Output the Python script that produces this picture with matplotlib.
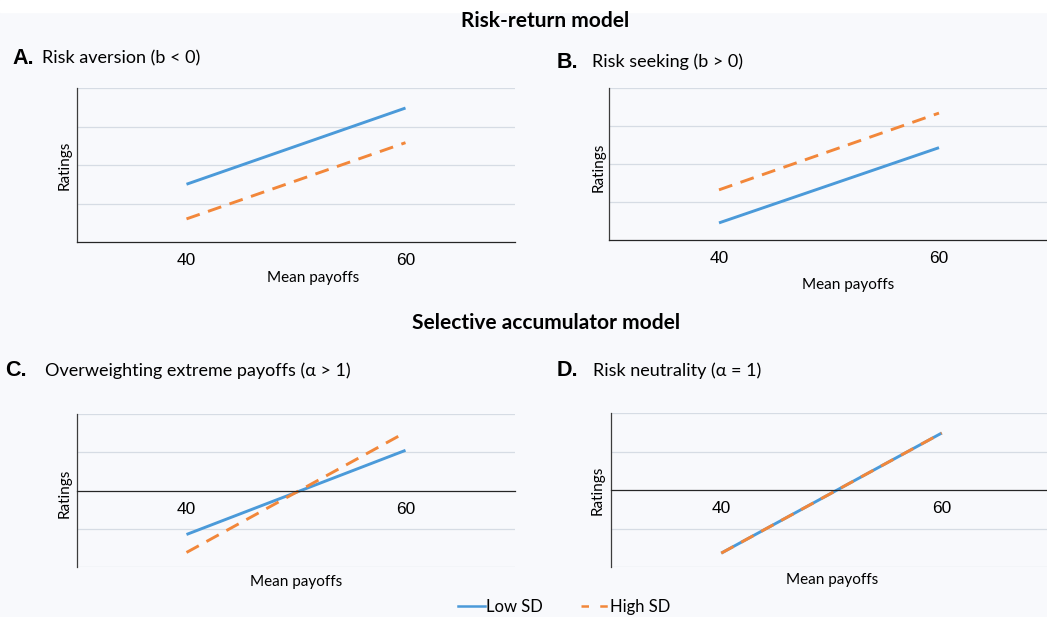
"""Predicted ratings under the risk-return and selective accumulator models."""

import matplotlib.pyplot as plt
from matplotlib.lines import Line2D
from matplotlib.patches import Rectangle

W, H = 1047, 617

mean_payoffs = [40, 60]

# predicted ratings (arbitrary units) at the two mean payoffs
aversion_low = [1.5, 3.48]
aversion_high = [0.6, 2.58]
seeking_low = [0.45, 2.43]
seeking_high = [1.32, 3.34]
overweight_low = [-1.15, 1.05]
overweight_high = [-1.62, 1.52]
neutral_low = [-1.64, 1.48]
neutral_high = [-1.64, 1.48]

BLUE = "#4b9ad9"
ORANGE = "#f2873a"
BG = "#f8f9fc"
GRID = "#d6dce4"
SANS = ["Lato", "DejaVu Sans"]
ARIAL = ["Liberation Sans", "DejaVu Sans"]


def fx(px):
    return px / W


def fy(py):
    return 1 - py / H


def panel(fig, left, top, right, bottom, low, high, centred):
    ax = fig.add_axes([fx(left), fy(bottom), (right - left) / W, (bottom - top) / H])
    ax.set_facecolor(BG)
    ax.set_xlim(30, 70)
    if centred:
        ax.set_ylim(-2, 2)
        ax.set_yticks([-2, -1, 1, 2])
        ax.spines["bottom"].set_position(("data", 0))
    else:
        ax.set_ylim(0, 4)
        ax.set_yticks([1, 2, 3, 4])
    ax.yaxis.grid(True, color=GRID, linewidth=0.9)
    ax.set_axisbelow(True)
    ax.tick_params(axis="y", length=0, labelleft=False)
    ax.set_xticks(mean_payoffs)
    ax.set_xticklabels([str(v) for v in mean_payoffs], fontsize=12.5, family=ARIAL)
    ax.tick_params(axis="x", length=0, pad=8)
    for side in ("top", "right"):
        ax.spines[side].set_visible(False)
    ax.spines["left"].set_color("#3c3c3c")
    ax.spines["left"].set_linewidth(0.9)
    ax.spines["bottom"].set_color("#262626")
    ax.spines["bottom"].set_linewidth(0.9)

    ax.plot(mean_payoffs, low, color=BLUE, linewidth=2.1, solid_capstyle="butt")
    ax.plot(mean_payoffs, high, color=ORANGE, linewidth=2.1, dashes=(4.8, 3.0))
    return ax


def axis_labels(fig, ax, xlabel_xy, ylabel_x, ylabel_y):
    fig.text(fx(xlabel_xy[0]), fy(xlabel_xy[1]), "Mean payoffs", fontsize=11,
             family=SANS, ha="center", va="center")
    fig.text(fx(ylabel_x), fy(ylabel_y), "Ratings", fontsize=11, family=SANS,
             rotation=90, ha="center", va="center")


def heading(fig, letter, text, x_letter, x_text, y):
    fig.text(fx(x_letter), fy(y), letter, fontsize=15.5, fontweight="bold",
             family=ARIAL, ha="left", va="center")
    fig.text(fx(x_text), fy(y), text, fontsize=13, family=SANS,
             ha="left", va="center")


fig = plt.figure(figsize=(W / 100, H / 100), dpi=100, facecolor=BG)
fig.patches.append(Rectangle((0, fy(12)), 1, 12 / H, transform=fig.transFigure,
                             color="white", zorder=0))

fig.text(fx(545), fy(21), "Risk-return model", fontsize=15, fontweight="bold",
         family=SANS, ha="center", va="center")
fig.text(fx(546), fy(323), "Selective accumulator model", fontsize=15,
         fontweight="bold", family=SANS, ha="center", va="center")

ax_a = panel(fig, 77, 88, 515, 242, aversion_low, aversion_high, False)
ax_b = panel(fig, 609, 88, 1049, 240, seeking_low, seeking_high, False)
ax_c = panel(fig, 77, 414, 515, 567, overweight_low, overweight_high, True)
ax_d = panel(fig, 611, 413, 1052, 567, neutral_low, neutral_high, True)

axis_labels(fig, ax_a, (313, 278), 65, 165)
axis_labels(fig, ax_b, (848, 285), 599, 167)
axis_labels(fig, ax_c, (296, 582), 65, 493)
axis_labels(fig, ax_d, (832, 580), 598, 490)

heading(fig, "A.", "Risk aversion (b < 0)", 12, 42, 58)
heading(fig, "B.", "Risk seeking (b > 0)", 557, 592, 62)
heading(fig, "C.", "Overweighting extreme payoffs (\u03b1 > 1)", 5, 45, 371)
heading(fig, "D.", "Risk neutrality (\u03b1 = 1)", 557, 593, 371)

handles = [
    Line2D([], [], color=BLUE, linewidth=1.8),
    Line2D([], [], color=ORANGE, linewidth=1.8, dashes=(3.0, 4.5)),
]
fig.legend(handles, ["Low SD", "High SD"], loc="center", ncol=2,
           bbox_to_anchor=(fx(564), fy(607)), frameon=False,
           prop={"family": SANS, "size": 12}, handlelength=1.6,
           handletextpad=0.1, columnspacing=2.3)

fig.savefig("out.png", dpi=100, facecolor=BG)
